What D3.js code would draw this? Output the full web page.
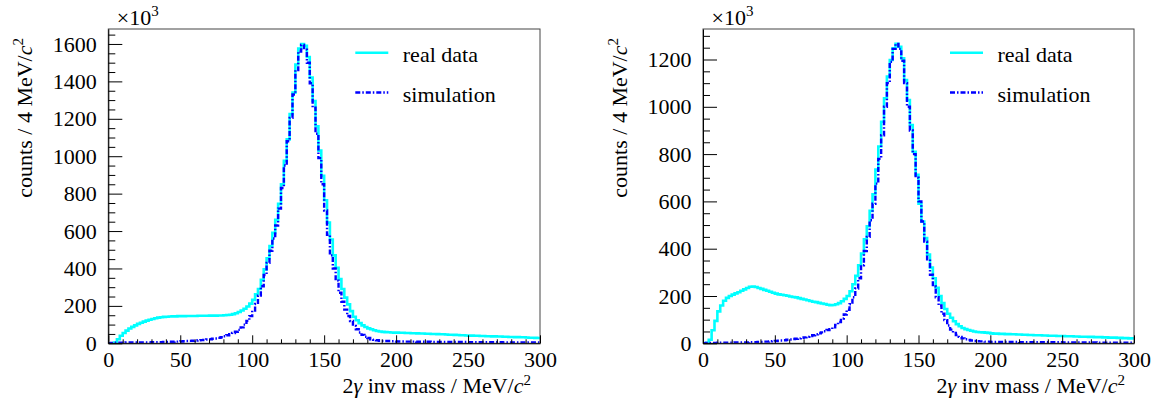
<!DOCTYPE html>
<html>
<head>
<meta charset="utf-8">
<script src="https://cdn.jsdelivr.net/npm/d3@7"></script>
<style>
  body { margin: 0; background: #fff; }
  svg { display: block; }
  text { font-family: "Liberation Serif", "Times New Roman", serif; fill: #000; }
</style>
</head>
<body>
<svg id="chart" width="1155" height="400"></svg>
<script>
// Two-photon invariant mass spectra, 2 MeV bins from 0 to 300 MeV/c^2 (values in units of 10^3 counts)
const binLowEdges = d3.range(0, 300, 2);
const massRange = [0, 300];

// Left panel: measured spectrum
const realDataA = [
  0, 0, 4, 22, 40, 55, 68, 79, 88, 96,
  104, 110, 116, 121, 126, 130, 134, 137, 139, 141,
  142, 143, 144, 144, 145, 145, 145, 146, 146, 146,
  146, 147, 147, 147, 147, 148, 148, 148, 149, 149,
  150, 151, 153, 156, 161, 167, 175, 185, 197, 212,
  232, 262, 290, 340, 395, 455, 520, 590, 660, 745,
  850, 975, 1090, 1225, 1340, 1490, 1575, 1600, 1590, 1530,
  1420, 1295, 1160, 1030, 895, 765, 645, 555, 470, 404,
  343, 290, 244, 208, 172, 142, 123, 108, 96, 87,
  80, 75, 70, 66, 63, 61, 60, 59, 58, 57,
  57, 56, 56, 55, 55, 54, 54, 53, 52, 52,
  51, 51, 50, 50, 49, 48, 48, 47, 46, 46,
  45, 44, 43, 43, 42,
  41, 41, 40, 40, 39, 39, 38, 38, 37, 37,
  36, 36, 35, 35, 34, 34, 33, 33, 32, 32,
  31, 30, 30, 29, 28
];

// Left panel: simulated spectrum
const simulationA = [
  0, 2, 3, 3, 3, 3, 4, 4, 4, 4,
  5, 5, 5, 5, 5, 6, 6, 6, 6, 7,
  7, 8, 8, 9, 9, 10, 11, 12, 13, 14,
  15, 16, 17, 18, 20, 22, 24, 26, 29, 32,
  38, 43, 49, 55, 62, 72, 85, 100, 120, 145,
  175, 210, 255, 305, 365, 430, 495, 560, 630, 720,
  830, 950, 1080, 1205, 1330, 1460, 1560, 1595, 1570, 1500,
  1390, 1260, 1120, 990, 850, 710, 580, 470, 400, 335,
  270, 222, 180, 146, 119, 93, 75, 58, 45, 35,
  28, 22, 19, 16, 14, 13, 12, 12, 11, 11,
  10, 10, 10, 9, 9, 9, 9, 8, 8, 8,
  8, 8, 7, 7, 7, 7, 7, 7, 7, 7,
  7, 7, 7, 7, 7,
  6, 6, 6, 6, 6, 6, 6, 6, 6, 6,
  6, 6, 5, 5, 5, 5, 5, 5, 5, 5,
  5, 5, 5, 5, 5
];

// Right panel: measured spectrum
const realDataB = [
  0, 2, 15, 55, 95, 135, 160, 180, 192, 200,
  206, 211, 216, 222, 228, 234, 239, 240, 238, 234,
  230, 226, 222, 218, 214, 210, 207, 205, 203, 201,
  198, 196, 194, 191, 188, 185, 182, 179, 176, 174,
  171, 168, 166, 163, 161, 162, 165, 170, 178, 188,
  200, 220, 250, 285, 330, 380, 440, 495, 560, 630,
  735, 832, 937, 1036, 1128, 1198, 1247, 1266, 1254, 1205,
  1113, 1029, 923, 810, 712, 590, 515, 445, 375, 320,
  275, 235, 200, 170, 145, 125, 108, 93, 81, 72,
  65, 60, 56, 53, 50, 48, 47, 46, 45, 44,
  42, 41, 41, 40, 40, 39, 39, 38, 38, 37,
  37, 36, 36, 35, 35, 34, 34, 34, 33, 33,
  32, 32, 32, 31, 31,
  31, 30, 30, 30, 29, 29, 28, 28, 28, 27,
  27, 26, 26, 26, 25, 25, 24, 24, 24, 23,
  23, 22, 22, 21, 21
];

// Right panel: simulated spectrum
const simulationB = [
  0, 1, 2, 2, 2, 3, 3, 3, 3, 3,
  3, 4, 4, 4, 4, 4, 5, 5, 5, 6,
  6, 7, 7, 8, 9, 10, 11, 12, 13, 15,
  16, 18, 19, 21, 23, 25, 28, 31, 34, 38,
  42, 46, 51, 56, 60, 68, 78, 90, 105, 122,
  142, 165, 195, 232, 275, 330, 390, 450, 520, 590,
  675, 780, 880, 1000, 1100, 1190, 1245, 1266, 1245, 1195,
  1100, 1000, 900, 800, 700, 600, 515, 430, 355, 290,
  240, 195, 160, 125, 98, 75, 58, 44, 35, 27,
  21, 17, 14, 12, 10, 9, 8, 8, 7, 7,
  6, 6, 6, 6, 6, 6, 6, 6, 6, 6,
  5, 5, 5, 5, 5, 5, 5, 5, 5, 5,
  5, 5, 5, 5, 5,
  4, 4, 4, 4, 4, 4, 4, 4, 4, 4,
  4, 4, 3, 3, 3, 3, 3, 3, 3, 3,
  3, 3, 3, 3, 3
];

const xMajorTicks = [0, 50, 100, 150, 200, 250, 300];
const yMajorTicksA = [0, 200, 400, 600, 800, 1000, 1200, 1400, 1600];
const yMajorTicksB = [0, 200, 400, 600, 800, 1000, 1200];
const legendLabels = ["real data", "simulation"];

const panels = [
  { left: 108.3, right: 540, top: 29, bottom: 343.3, yMax: 1680, yTicks: yMajorTicksA, real: realDataA, sim: simulationA },
  { left: 703, right: 1134, top: 29, bottom: 343.3, yMax: 1329, yTicks: yMajorTicksB, real: realDataB, sim: simulationB }
];

const svg = d3.select("#chart");
svg.append("rect").attr("width", 1155).attr("height", 400).attr("fill", "#fff");

const FONT = 22;
const SUP = 15;
const colReal = "#00ffff";
const colSim = "#0000ff";
const simDash = "5,2,1.5,2";
const plainInt = d3.format("d");

panels.forEach((p, idx) => {
  const x = d3.scaleLinear().domain(massRange).range([p.left, p.right]);
  const y = d3.scaleLinear().domain([0, p.yMax]).range([p.bottom, p.top]);
  const g = svg.append("g");

  const clipId = "frame-clip-" + idx;
  g.append("clipPath").attr("id", clipId)
    .append("rect")
    .attr("x", p.left).attr("y", p.top)
    .attr("width", p.right - p.left).attr("height", p.bottom - p.top);

  // Histogram outlines as step lines over the bin edges
  const stepLine = d3.line()
    .x(d => x(d[0]))
    .y(d => y(d[1]))
    .curve(d3.curveStepAfter);
  const histPoints = vals => {
    const pts = binLowEdges.map((e, i) => [e, vals[i]]);
    pts.push([massRange[1], vals[vals.length - 1]]);
    return pts;
  };

  const plot = g.append("g").attr("clip-path", `url(#${clipId})`);
  plot.append("path")
    .attr("d", stepLine(histPoints(p.real)))
    .attr("fill", "none")
    .attr("stroke", colReal)
    .attr("stroke-width", 2.6);
  plot.append("path")
    .attr("d", stepLine(histPoints(p.sim)))
    .attr("fill", "none")
    .attr("stroke", colSim)
    .attr("stroke-width", 2.4)
    .attr("stroke-dasharray", simDash);

  // Frame
  g.append("rect")
    .attr("x", p.left).attr("y", p.top)
    .attr("width", p.right - p.left).attr("height", p.bottom - p.top)
    .attr("fill", "none").attr("stroke", "#444").attr("stroke-width", 1);

  // X axis: major and minor ticks pointing into the frame
  const xMinor = d3.range(0, 301, 10).filter(v => v % 50 !== 0);
  const xAxisMinor = d3.axisBottom(x).tickValues(xMinor).tickSize(-4).tickSizeOuter(0).tickFormat("");
  const xAxis = d3.axisBottom(x).tickValues(xMajorTicks).tickSize(-8).tickSizeOuter(0)
    .tickPadding(8).tickFormat(plainInt);
  g.append("g").attr("transform", `translate(0,${p.bottom})`).call(xAxisMinor)
    .call(s => s.select(".domain").remove());
  const xg = g.append("g").attr("transform", `translate(0,${p.bottom})`).call(xAxis);
  xg.attr("font-family", null);
  xg.selectAll("text").attr("font-size", FONT);

  // Y axis
  const yMinor = d3.range(0, p.yMax + 1, 50).filter(v => v % 200 !== 0);
  const yAxisMinor = d3.axisLeft(y).tickValues(yMinor).tickSize(-7).tickSizeOuter(0).tickFormat("");
  const yAxis = d3.axisLeft(y).tickValues(p.yTicks).tickSize(-14).tickSizeOuter(0)
    .tickPadding(11.5).tickFormat(plainInt);
  g.append("g").attr("transform", `translate(${p.left},0)`).call(yAxisMinor)
    .call(s => s.select(".domain").remove());
  const yg = g.append("g").attr("transform", `translate(${p.left},0)`).call(yAxis);
  yg.attr("font-family", null);
  yg.selectAll("text").attr("font-size", FONT);

  g.selectAll(".tick line").attr("stroke", "#000");
  g.selectAll(".domain").attr("stroke", "#000");

  // Exponent marker above the y axis
  const expo = g.append("text")
    .attr("x", p.left + 8.5).attr("y", 25)
    .attr("font-size", FONT);
  expo.append("tspan").text("×10");
  expo.append("tspan").attr("font-size", SUP).attr("dy", -9).text("3");

  // Y axis title
  const yt = g.append("text")
    .attr("transform", `translate(${p.left - 76},38) rotate(-90)`)
    .attr("text-anchor", "end")
    .attr("font-size", FONT);
  yt.append("tspan").text("counts / 4 MeV/");
  yt.append("tspan").attr("font-style", "italic").text("c");
  yt.append("tspan").attr("font-size", SUP).attr("dy", -9).text("2");

  // X axis title
  const xt = g.append("text")
    .attr("x", p.right - 9).attr("y", 393)
    .attr("text-anchor", "end")
    .attr("font-size", FONT);
  xt.append("tspan").text("2");
  xt.append("tspan").attr("font-style", "italic").text("γ");
  xt.append("tspan").text(" inv mass / MeV/");
  xt.append("tspan").attr("font-style", "italic").text("c");
  xt.append("tspan").attr("font-size", SUP).attr("dy", -8).text("2");

  // Legend
  const legendRows = [
    { label: legendLabels[0], color: colReal, dash: null, width: 2.6, y: 52.7 },
    { label: legendLabels[1], color: colSim, dash: simDash, width: 2.4, y: 92.5 }
  ];
  legendRows.forEach(r => {
    g.append("line")
      .attr("x1", p.left + 247).attr("x2", p.left + 280)
      .attr("y1", r.y).attr("y2", r.y)
      .attr("stroke", r.color).attr("stroke-width", r.width)
      .attr("stroke-dasharray", r.dash);
    g.append("text")
      .attr("x", p.left + 294.5).attr("y", r.y + 9)
      .attr("font-size", FONT)
      .text(r.label);
  });
});
</script>
</body>
</html>
